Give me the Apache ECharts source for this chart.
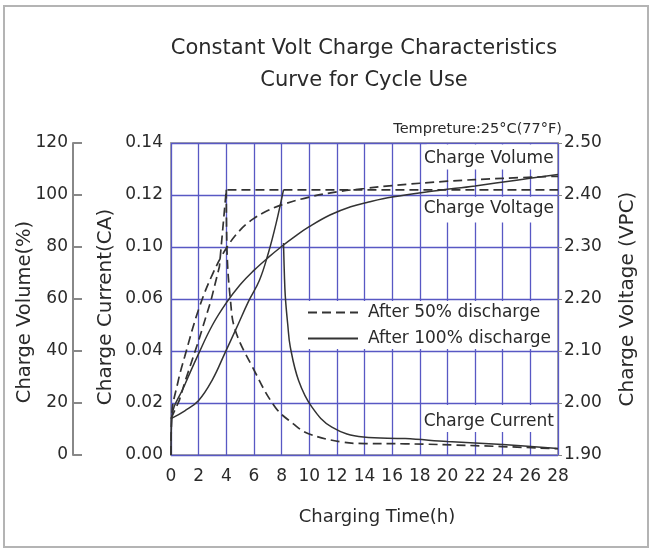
<!DOCTYPE html>
<html><head><meta charset="utf-8">
<script src="https://cdn.jsdelivr.net/npm/echarts@6/dist/echarts.min.js"></script>
<style>
html,body{margin:0;padding:0;background:#fff}
#c{width:655px;height:551px}
#f{position:absolute;left:3px;top:5px;width:646px;height:543px;border:2px solid #b4b4b4;box-sizing:border-box;pointer-events:none}
</style>
</head><body><div id="c"></div><div id="f"></div>
<script>
// ---- tick labels ----
const currentTickLabels = ['0.00','0.02','0.04','0.06','0.10','0.12','0.14'];

// ---- After 50% discharge ----
const time50Voltage = [0, 0.6, 1, 2, 2.9, 3.5, 4, 28];
const volt50 = [1.97, 2.005, 2.04, 2.12, 2.198, 2.262, 2.41, 2.41];
const time50Volume = [0, 0.05, 0.5, 1, 2, 3, 4, 5, 6, 7, 8, 10, 12, 14, 16, 20, 24, 28];
const vol50 = [0, 15, 28, 38, 56, 69.5, 79.5, 86.5, 91, 94, 96.2, 99.2, 101.2, 102.5, 103.6, 105.3, 106.4, 107.2];
const time50Current = [4, 4.05, 4.3, 4.65, 5.9, 7.54, 8.85, 9.95, 12.36, 14.05, 16.94, 22, 28];
const cur50 = [0.102, 0.079, 0.0596, 0.048, 0.0338, 0.0184, 0.012, 0.0082, 0.005, 0.0044, 0.0043, 0.0036, 0.0024];

// ---- After 100% discharge ----
const time100Voltage = [0, 1, 2, 3, 3.9, 4.7, 5.6, 6.4, 7.05, 7.6, 8.14];
const volt100 = [1.97, 1.985, 2.005, 2.045, 2.096, 2.142, 2.195, 2.236, 2.289, 2.345, 2.41];
const time100Volume = [0, 0.05, 1, 2, 3, 4, 5, 6, 7, 8, 9, 10, 11.5, 13, 14.3, 16, 19, 22, 25, 28];
const vol100 = [0, 14, 27, 39, 50, 58.5, 65.5, 71, 75.8, 80.2, 84.2, 87.8, 92.3, 95.5, 97.3, 99.2, 101.5, 103.5, 105.7, 107.9];
const time100Current = [8.14, 8.2, 8.27, 8.45, 8.63, 9.23, 10.2, 11.64, 13.92, 16.94, 20, 24, 28];
const cur100 = [0.0815, 0.07, 0.061, 0.05, 0.0416, 0.0287, 0.0184, 0.0107, 0.0069, 0.0063, 0.0052, 0.004, 0.0025];

const FONT = 'DejaVu Sans';
const TXT = '#2a2a2a';
const LINE = '#333';
const GRIDC = '#5858c4';
const zip = (xs, ys) => xs.map((x, i) => [x, ys[i]]);

const dashed = { color: LINE, width: 1.7, type: [9, 5] };
const solid = { color: LINE, width: 1.5, type: 'solid' };

function lineSeries(name, xs, ys, yIdx, style, smooth) {
  return {
    name, type: 'line', yAxisIndex: yIdx, data: zip(xs, ys),
    symbol: 'none', showSymbol: false, smooth: smooth,
    lineStyle: style, itemStyle: { color: LINE }, silent: true, animation: false
  };
}

const boxLabel = (t, dy) => ({ show: true, position: 'inside', offset: [-3, dy], color: TXT, fontSize: 17, fontFamily: FONT, formatter: t });

const chart = echarts.init(document.getElementById('c'), null, { renderer: 'canvas' });
chart.setOption({
  animation: false,
  backgroundColor: '#fff',
  textStyle: { fontFamily: FONT },
  title: [
    { text: 'Constant Volt Charge Characteristics\nCurve for Cycle Use', left: 364, top: 32.5, textAlign: 'center',
      padding: 0,
      textStyle: { fontSize: 21, fontWeight: 'normal', color: TXT, fontFamily: FONT, lineHeight: 32 } },
    { text: 'Tempreture:25°C(77°F)', right: 93, top: 122, padding: 0,
      textStyle: { fontSize: 14.5, fontWeight: 'normal', color: TXT, fontFamily: FONT } }
  ],
  legend: {
    data: ['After 50% discharge', 'After 100% discharge'],
    orient: 'vertical', left: 307, top: 304, itemWidth: 50, itemHeight: 14, itemGap: 9,
    selectedMode: false, padding: 0,
    itemStyle: { opacity: 0, color: 'rgba(0,0,0,0)', borderWidth: 0 },
    textStyle: { fontSize: 17, color: TXT, fontFamily: FONT, lineHeight: 16, padding: [0, 0, 0, 5] }
  },
  grid: { left: 171, right: 97, top: 143, bottom: 96, show: true, borderColor: '#a8a8a8', borderWidth: 2, outerBoundsMode: 'none', containLabel: false },
  xAxis: {
    type: 'value', min: 0, max: 28, interval: 2,
    name: 'Charging Time(h)', nameLocation: 'middle', nameGap: 53, nameMoveOverlap: false,
    nameTextStyle: { fontSize: 18, color: TXT, fontFamily: FONT, padding: [0, 0, 0, 25] },
    axisLine: { show: false }, axisTick: { show: false },
    axisLabel: { fontSize: 17, color: TXT, margin: 13, fontFamily: FONT },
    splitLine: { show: true, lineStyle: { color: GRIDC, width: 1.3, opacity: 1 } }
  },
  yAxis: [
    { type: 'value', position: 'left', min: 0, max: 0.12, interval: 0.02,
      name: 'Charge Current(CA)', nameLocation: 'middle', nameGap: 55, nameRotate: 90, nameMoveOverlap: false,
      nameTextStyle: { fontSize: 20, color: TXT, fontFamily: FONT, padding: [0, 16, 0, 0] },
      axisLine: { show: false }, axisTick: { show: false },
      axisLabel: { fontSize: 17, color: TXT, margin: 8, fontFamily: FONT,
        formatter: (v) => currentTickLabels[Math.round(v / 0.02)] },
      splitLine: { show: true, lineStyle: { color: GRIDC, width: 1.3, opacity: 1 } } },
    { type: 'value', position: 'left', offset: 98, min: 0, max: 120, interval: 20,
      name: 'Charge Volume(%)', nameLocation: 'middle', nameGap: 38, nameRotate: 90, nameMoveOverlap: false,
      nameTextStyle: { fontSize: 19.5, color: TXT, fontFamily: FONT, padding: [0, 26, 0, 0] },
      axisLine: { show: true, lineStyle: { color: '#888', width: 2 } },
      axisTick: { show: true, inside: true, length: 9, lineStyle: { color: '#888', width: 2 } },
      axisLabel: { fontSize: 17, color: TXT, margin: 5, fontFamily: FONT },
      splitLine: { show: false } },
    { type: 'value', position: 'right', min: 1.9, max: 2.5, interval: 0.1,
      name: 'Charge Voltage (VPC)', nameLocation: 'middle', nameGap: 60, nameRotate: 90, nameMoveOverlap: false,
      nameTextStyle: { fontSize: 20, color: TXT, fontFamily: FONT },
      axisLine: { show: false }, axisTick: { show: true, length: 4, lineStyle: { color: '#888' } },
      axisLabel: { fontSize: 17, color: TXT, margin: 6, fontFamily: FONT, formatter: (v) => v.toFixed(2) },
      splitLine: { show: false } }
  ],
  series: [
    { name: 'boxes', type: 'line', yAxisIndex: 0, data: [], silent: true,
      markArea: { silent: true, itemStyle: { color: '#fff' },
        data: [
          [{ xAxis: 18.5, yAxis: 0.1098, name: 'Charge Volume', label: boxLabel('Charge Volume', 2) }, { xAxis: 27.92, yAxis: 0.1194 }],
          [{ xAxis: 18.5, yAxis: 0.0894, name: 'Charge Voltage', label: boxLabel('Charge Voltage', -1) }, { xAxis: 27.92, yAxis: 0.0993 }],
          [{ xAxis: 18.5, yAxis: 0.0088, name: 'Charge Current', label: boxLabel('Charge Current', 3) }, { xAxis: 27.92, yAxis: 0.0192 }],
          [{ xAxis: 9.3, yAxis: 0.0408, label: { show: false } }, { xAxis: 27.92, yAxis: 0.0592 }]
        ] } },
    lineSeries('After 50% discharge', time50Voltage, volt50, 2, dashed, false),
    lineSeries('After 50% discharge', time50Volume, vol50, 1, dashed, 0.4),
    lineSeries('After 50% discharge', time50Current, cur50, 0, dashed, 0.4),
    lineSeries('After 100% discharge', time100Voltage, volt100, 2, solid, 0.4),
    lineSeries('After 100% discharge', time100Volume, vol100, 1, solid, 0.4),
    lineSeries('After 100% discharge', time100Current, cur100, 0, solid, 0.4)
  ]
});
</script>
</body></html>
